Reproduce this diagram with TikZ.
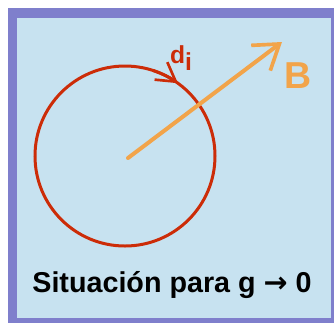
\documentclass[tikz,border=0pt]{standalone}
\usepackage{fontspec}
\setmainfont{Liberation Sans}
\newfontfamily\arrowfont{DejaVu Sans}
\usepackage{xcolor}
\usepackage{tikz}
\usetikzlibrary{arrows.meta,positioning,calc}
\definecolor{framepurple}{RGB}{127,127,204}
\definecolor{paneblue}{RGB}{199,226,240}
\definecolor{loopred}{RGB}{204,44,8}
\definecolor{fieldorange}{RGB}{242,164,74}

\begin{document}
\begin{tikzpicture}[x=0.03cm,y=-0.03cm,
    loop/.style={draw=loopred, line width=0.09cm},
    field/.style={draw=fieldorange, line width=0.12cm, line cap=round},
    barb/.style={-{Straight Barb[length=0.7cm,width=0.95cm,line width=0.11cm]}}]
% pixel grid of the reference, y downwards; circle centre (125,156), r = 90
\useasboundingbox (0,0) rectangle (334,323);
\fill[framepurple] (8,8) rectangle (334,323);
\fill[paneblue] (17,18) rectangle (331,318);
\coordinate (o) at (125,156);
\coordinate (tip) at (282,42);
% current loop and its sense
\draw[loop] (o) circle (90);
\draw[loop, -{Straight Barb[length=0.55cm,width=0.65cm,line width=0.08cm]}] ($(o)+(-72:90)$) arc[start angle=-72, end angle=-54, radius=90];
\node[font=\bfseries\fontsize{21}{21}\selectfont, text=loopred, inner sep=0pt] (di) at (181,58) {d\raisebox{-0.55ex}{i}};
% field vector
\draw[field, barb] (128,158) -- (tip);
\node[font=\bfseries\fontsize{32}{32}\selectfont, text=fieldorange, inner sep=0pt] (lblB) at (298,76) {B};
% caption
\node[font=\bfseries\fontsize{24.5}{25}\selectfont, inner sep=0pt] (cap) at (172,285) {Situación para g {\arrowfont →} 0};
\end{tikzpicture}
\end{document}
